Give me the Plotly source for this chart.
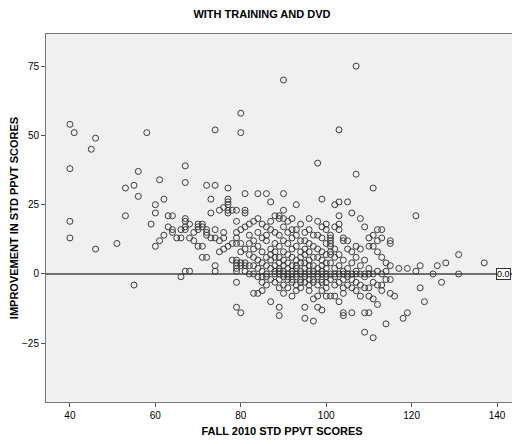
import plotly.graph_objects as go

# FALL 2010 STD PPVT score columns and the improvements observed at each score
fall_2010_scores = [40, 41, 45, 46, 51, 53, 55, 56, 58, 59, 60, 61, 62, 63, 64, 65, 66, 67, 68,
                    69, 70, 71, 72, 73, 74, 75, 76, 77, 78, 79, 80, 81, 82, 83, 84, 85, 86, 87,
                    88, 89, 90, 91, 92, 93, 94, 95, 96, 97, 98, 99, 100, 101, 102, 103, 104,
                    105, 106, 107, 108, 109, 110, 111, 112, 113, 114, 115, 116, 117, 118, 119,
                    121, 122, 123, 125, 126, 127, 128, 131, 137]

improvement_by_score = [
    [54, 38, 19, 13], [51], [45], [49, 9], [11], [31, 21], [32, -4], [37, 28], [51], [18],
    [25, 22, 10], [34, 12], [27, 14], [21, 17], [21, 16, 15], [13], [16, 13, -1],
    [39, 33, 20, 19, 17, 16, 1], [18, 13, 1],
    [15, 12], [18, 17, 16, 10], [18, 17, 10, 6], [32, 16, 15, 14, 6], [27, 22, 13],
    [52, 32, 16, 13, 3, 1], [23, 12, 8], [24, 15, 13, 9], [31, 27, 26, 25, 23, 22, 10],
    [23, 11, 5], [23, 19, 15, 13, 11, 5, 4, 3, 2, 1, -3, -12], [58, 51, 16, 11, 8, 4, 3, -14],
    [29, 23, 22, 17, 9, 4, 3, 1], [18, 14, 11, 7, 3, 0], [19, 12, 9, 6, 3, 0, -7],
    [29, 20, 15, 10, 5, 2, -1, -7], [18, 13, 8, 4, 1, -1, -3, -6],
    [29, 17, 14, 12, 6, 3, 0, -1, -4], [26, 19, 16, 9, 7, 5, 2, -2, -10],
    [21, 15, 11, 8, 6, 3, 1, 0, -3], [21, 20, 14, 10, 6, 4, 2, 1, 0, -2, -5, -12, -15],
    [70, 29, 23, 20, 17, 12, 8, 5, 3, 1, 0, -1, -4, -7], [19, 15, 11, 7, 4, 2, 0, -1, -2, -5],
    [20, 16, 13, 9, 6, 3, 1, 0, -2, -3, -8], [25, 16, 14, 10, 5, 3, 2, 0, -1, -4, -6],
    [18, 12, 8, 6, 4, 1, 0, -2, -3, -5], [15, 12, 9, 7, 4, 2, 0, -1, -3, -12, -16],
    [20, 16, 11, 8, 5, 3, 1, 0, -2, -4, -6], [14, 10, 6, 3, 1, 0, -2, -3, -9, -17],
    [40, 19, 14, 9, 6, 2, 0, -1, -4, -8, -12], [27, 17, 13, 8, 5, 3, 1, 0, -2, -3, -6, -13],
    [18, 16, 11, 7, 4, 2, 0, -1, -3, -5, -8], [14, 13, 12, 11, 10, 8, 7, 4, 0, -2, -8],
    [25, 17, 9, 6, 2, 0, -1, -4, -8], [52, 26, 21, 18, 16, 7, 3, 0, -3, -10],
    [13, 12, 5, 1, 0, -2, -5, -7, -14, -15], [26, 12, 9, 2, 0, -1, -4],
    [22, 8, 4, 0, -2, -5, -14], [75, 36, 10, 6, 1, 0, -3, -6], [20, 9, 3, 0, -4, -8],
    [17, 5, 0, -1, -5, -14, -21], [13, 10, 2, 0, -5, -8, -14], [31, 14, 10, 0, -3, -9, -23],
    [16, 12, 8, 1, -4, -11], [16, 13, 6, 0, -4, -6], [4, 1, -2, -18], [12, 11, 3, -2, -7],
    [-8], [2], [-16], [2, -14], [21, 1], [3, -5], [-10], [0], [3], [-3], [4], [7, 0], [4],
]

x_ticks = [40, 60, 80, 100, 120, 140]
y_ticks = [-25, 0, 25, 50, 75]
reference_value = 0.0

xs, ys = [], []
for score, vals in zip(fall_2010_scores, improvement_by_score):
    for v in vals:
        xs.append(score)
        ys.append(v)

fig = go.Figure()
fig.add_trace(go.Scatter(
    x=xs, y=ys, mode="markers",
    marker=dict(symbol="circle-open", size=6, color="#3c3c3c", line=dict(width=1)),
    hoverinfo="x+y", showlegend=False,
))

fig.add_shape(type="line", xref="paper", x0=0, x1=1, yref="y", y0=reference_value, y1=reference_value,
              line=dict(color="#707070", width=2), layer="below")

fig.add_annotation(xref="paper", x=0.986, yref="y", y=reference_value, xanchor="right", yanchor="middle",
                   text="0.0", showarrow=False, font=dict(family="Liberation Sans, Arial", size=9, color="#000"),
                   bgcolor="white", bordercolor="#333", borderwidth=1, borderpad=0)

axis_font = dict(family="Liberation Sans, Arial", size=10, color="#000")
fig.update_layout(
    width=512, height=430,
    margin=dict(l=38, r=2, t=26, b=36),
    paper_bgcolor="white", plot_bgcolor="#F0F0F0",
    title=dict(text="<b>WITH TRAINING AND DVD</b>", x=0.496, xanchor="center", y=0.985, yanchor="middle",
               font=dict(family="Liberation Sans, Arial", size=11, color="#000")),
    xaxis=dict(range=[34.4, 144.9], tickvals=x_ticks, ticks="outside", ticklen=4, tickcolor="#555",
               showgrid=False, zeroline=False, showline=True, linecolor="#777", linewidth=1, mirror=True,
               tickfont=axis_font,
               title=dict(text="<b>FALL 2010 STD PPVT SCORES</b>", standoff=7,
                          font=dict(family="Liberation Sans, Arial", size=11, color="#000"))),
    yaxis=dict(range=[-46.2, 86.6], tickvals=y_ticks, ticks="outside", ticklen=4, tickcolor="#555",
               showgrid=False, zeroline=False, showline=True, linecolor="#777", linewidth=1, mirror=True,
               tickfont=axis_font,
               title=dict(text="<b>IMPROVEMENT IN STD PPVT SCORES</b>", standoff=1,
                          font=dict(family="Liberation Sans, Arial", size=11, color="#000"))),
)

fig.write_html("out.html")
